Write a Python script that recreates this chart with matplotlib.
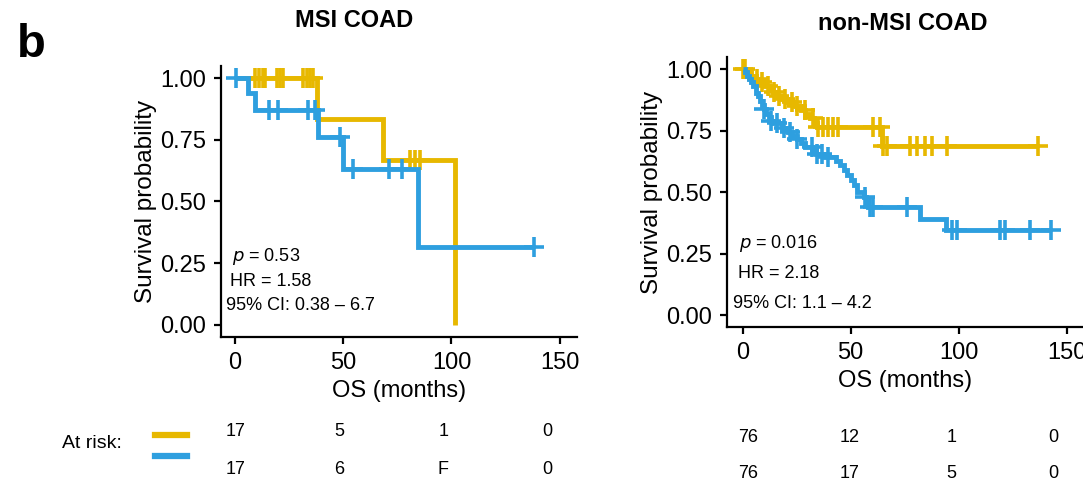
import numpy as np
import matplotlib
matplotlib.use("Agg")
import matplotlib.pyplot as plt
from matplotlib.lines import Line2D

plt.rcParams['font.family'] = ['Liberation Sans', 'DejaVu Sans']

YELLOW = '#E7B800'
BLUE = '#2E9FDF'

# MSI COAD: survival step curves (time in months, survival after each step)
msi_y_time = [0, 37.7, 68.2, 101.6]
msi_y_surv = [1.0, 0.833, 0.667, 0.0]
msi_y_cens = [9.2, 11.1, 12.9, 13.9, 19.4, 20.8, 22.2, 31.4, 33.3, 34.6, 36.0,
              80.8, 83.1, 85.5]

msi_b_time = [0, 6.0, 9.2, 38.5, 50.0, 84.7, 138.0]
msi_b_surv = [1.0, 0.94, 0.87, 0.76, 0.633, 0.317, 0.317]
msi_b_cens = [0.5, 15.9, 20.0, 33.9, 37.0, 48.5, 54.6, 71.0, 77.0, 138.0]

# non-MSI COAD
non_y_time = [0, 2, 4, 6, 8, 10, 12, 14, 16, 18, 21, 24, 27, 29, 31, 33, 34.5,
              64.3, 136.7]
non_y_surv = [1.0, 0.987, 0.974, 0.96, 0.947, 0.933, 0.92, 0.906, 0.893, 0.879,
              0.865, 0.85, 0.835, 0.82, 0.80, 0.78, 0.764, 0.688, 0.688]
non_y_cens = [0.3, 1.0, 6.4, 8.8, 11.5, 14.7, 17.0, 19.6, 22.8, 25.1, 28.8, 32.5,
              35.0, 37.3, 39.6, 41.9, 44.2, 60.5, 63.6, 65.1, 66.7, 77.5, 80.6,
              84.4, 87.5, 94.4, 136.7]

non_b_time = [0, 1, 2, 3, 4, 5, 6, 7, 8, 9, 10, 11, 12, 13, 14, 18, 21, 23, 25,
              27, 29, 32, 34, 38, 43, 45, 47, 48.5, 50, 51.5, 53, 56, 57, 58,
              82, 94, 142.6]
non_b_surv = [1.0, 0.987, 0.974, 0.96, 0.947, 0.93, 0.905, 0.89, 0.87, 0.855,
              0.84, 0.82, 0.805, 0.79, 0.78, 0.76, 0.745, 0.73, 0.715, 0.70,
              0.685, 0.67, 0.655, 0.642, 0.628, 0.61, 0.59, 0.57, 0.55, 0.53,
              0.50, 0.48, 0.46, 0.438, 0.39, 0.346, 0.346]
non_b_cens = [10, 13, 16, 19, 22, 25, 31.9, 34.2, 36.6, 39.6, 56.6, 58.9, 60.5,
              75.9, 96.8, 99.1, 119.0, 121.4, 133.0, 142.6]

msi_stats = ["0.53", "1.58", "0.38 \u2013 6.7"]
non_stats = ["0.016", "2.18", "1.1 \u2013 4.2"]

risk_times = [0, 50, 100, 150]
msi_risk_y = ["17", "5", "1", "0"]
msi_risk_b = ["17", "6", "F", "0"]
non_risk_y = ["76", "12", "1", "0"]
non_risk_b = ["76", "17", "5", "0"]

W, H = 1083, 493
fig = plt.figure(figsize=(W / 100, H / 100), dpi=100)


def px_axes(x0, y0, x1, y1):
    # axes from pixel box (top-left origin)
    return fig.add_axes([x0 / W, 1 - y1 / H, (x1 - x0) / W, (y1 - y0) / H])


def km(ax, t, s, cens, color):
    ax.step(t, s, where='post', color=color, lw=3.5, solid_capstyle='butt',
            solid_joinstyle='miter')
    t = np.asarray(t)
    s = np.asarray(s)
    idx = np.searchsorted(t, cens, side='right') - 1
    ax.plot(cens, s[idx], ls='none', marker='+', ms=14, mew=2.6, color=color)


def style(ax, xlim):
    ax.set_xlim(*xlim)
    ax.set_ylim(-0.05, 1.05)
    ax.set_xticks([0, 50, 100, 150])
    ax.set_yticks([0, 0.25, 0.5, 0.75, 1.0])
    ax.set_yticklabels(["0.00", "0.25", "0.50", "0.75", "1.00"])
    for side in ['top', 'right']:
        ax.spines[side].set_visible(False)
    for side in ['left', 'bottom']:
        ax.spines[side].set_linewidth(1.6)
    ax.tick_params(length=5, width=1.6, labelsize=17, pad=5.5, colors='black')
    ax.set_xlabel("OS (months)", fontsize=17, labelpad=4.5)
    ax.set_ylabel("Survival probability", fontsize=17.5, labelpad=2.5)


def stats(ax, vals, xs, ys):
    ax.text(xs[0], ys[0], r"$p$ = " + vals[0], fontsize=13, va='center')
    ax.text(xs[1], ys[1], "HR = " + vals[1], fontsize=13, va='center')
    ax.text(xs[2], ys[2], "95% CI: " + vals[2], fontsize=13, va='center')


# left panel
ax1 = px_axes(221, 66, 577, 337)
km(ax1, msi_y_time, msi_y_surv, msi_y_cens, YELLOW)
km(ax1, msi_b_time, msi_b_surv, msi_b_cens, BLUE)
style(ax1, (-6.5, 158))
stats(ax1, msi_stats, [-1.5, -2.5, -4.3], [0.276, 0.175, 0.077])
ax1.set_title("MSI COAD", fontsize=17, fontweight='bold', x=0.374, y=1.115)

# right panel
ax2 = px_axes(726.7, 57, 1083, 327.3)
km(ax2, non_y_time, non_y_surv, non_y_cens, YELLOW)
km(ax2, non_b_time, non_b_surv, non_b_cens, BLUE)
style(ax2, (-7.4, 157.5))
stats(ax2, non_stats, [-1.8, -2.3, -4.6], [0.293, 0.167, 0.045])
ax2.set_title("non-MSI COAD", fontsize=17, fontweight='bold', x=0.495, y=1.07)

fig.text(17 / W, 1 - 57 / H, "b", fontsize=34, fontweight='bold', va='baseline')


# number-at-risk tables
def risk_table(box, rows):
    ax = px_axes(*box)
    ax.set_xlim(0, 150)
    ax.set_ylim(1.5, -0.5)
    ax.axis('off')
    for r, row in enumerate(rows):
        for t, v in zip(risk_times, row):
            ax.text(t, r, v, fontsize=13, ha='center', va='center')


risk_table((236, 413, 547, 489), [msi_risk_y, msi_risk_b])
risk_table((748, 418.5, 1053, 492.5), [non_risk_y, non_risk_b])

fig.text(62 / W, 1 - 443 / H, "At risk:", fontsize=14, va='center')
handles = [Line2D([], [], color=YELLOW, lw=4.5), Line2D([], [], color=BLUE, lw=4.5)]
fig.legend(handles, ["", ""], loc='center', bbox_to_anchor=(171 / W, 1 - 447 / H),
           frameon=False, handlelength=1.95, handletextpad=0, borderpad=0,
           labelspacing=0.35, fontsize=12)

fig.savefig("out.png", dpi=100)
